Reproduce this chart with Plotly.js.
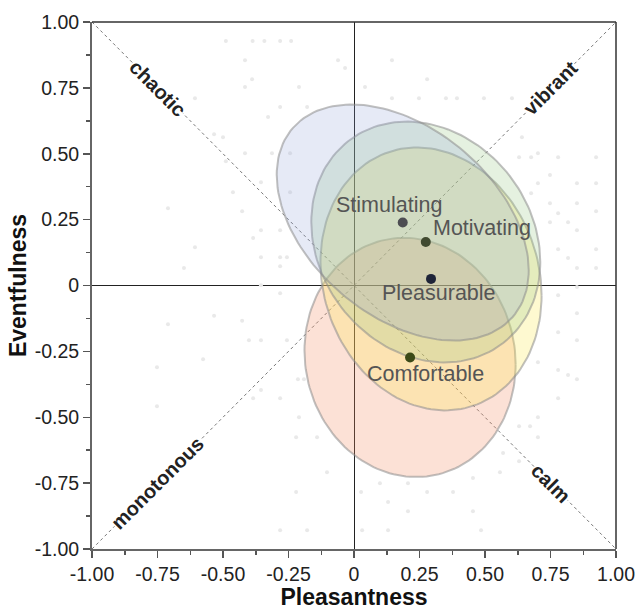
<!DOCTYPE html>
<html>
<head>
<meta charset="utf-8">
<script src="https://cdn.plot.ly/plotly-3.0.1.min.js"></script>
<style>
  html, body { margin: 0; padding: 0; background: #fff; }
  #chart { width: 639px; height: 610px; }
</style>
</head>
<body>
<div id="chart"></div>
<script>
// Perceptual attributes: mean position and spread on the circumplex
const attributes   = ['Stimulating', 'Motivating', 'Pleasurable', 'Comfortable'];
const pleasantness = [0.186, 0.274, 0.294, 0.214];
const eventfulness = [0.239, 0.165, 0.025, -0.273];
const spreadP      = [0.481, 0.437, 0.422, 0.403];
const spreadE      = [0.448, 0.457, 0.499, 0.454];
const correlation  = [-0.405, -0.166, -0.127, -0.058];

// Individual responses (faint background points)
const respP = [
  -0.489, -0.387, -0.342, -0.282, -0.240, -0.416, -0.607, -0.416, -0.389, -0.210,
  -0.179, -0.282, -0.328, -0.534, -0.500, -0.416, -0.313, -0.244, -0.489, -0.462,
  -0.355, -0.244, -0.427, -0.710, -0.607, -0.385, -0.355, -0.282, -0.355, -0.282,
  -0.256, -0.649, -0.282, -0.355, -0.282,
  -0.534, -0.427, -0.710, -0.401, -0.355, -0.256, -0.576, -0.752, -0.214, -0.191,
  -0.355, -0.385, -0.282, -0.752, -0.210, -0.221, -0.141, -0.221, -0.282, -0.179,
  0.851, 0.779, 0.851, 0.702, 0.779, 0.817, 0.851, 0.779, 0.702, 0.630,
  0.672, 0.702, 0.569, 0.630, 0.557, -0.103, 0.454, 0.099, 0.206, 0.279,
  0.378, 0.027, 0.130, 0.206, 0.454, 0.031, 0.130, 0.485,
  -0.061, -0.034, 0.145, 0.279, 0.042, 0.145, 0.248, 0.351, 0.393, 0.496,
  0.603, 0.641, 0.630, 0.676, 0.702, 0.779, 0.924, 0.748, 0.702, 0.851,
  0.924, 0.676, 0.748, 0.851, 0.924, 0.779, 0.748, 0.817, 0.851, 0.779,
  0.817, 0.851, 0.924, 0.924, 0.779, 0.851
];
const respE = [
  0.928, 0.928, 0.928, 0.928, 0.928, 0.855, 0.711, 0.753, 0.783, 0.753,
  0.677, 0.677, 0.639, 0.574, 0.563, 0.502, 0.502, 0.502, 0.472, 0.354,
  0.392, 0.354, 0.282, 0.293, 0.145, 0.180, 0.210, 0.210, 0.107, 0.107,
  0.107, 0.066, 0.073, 0.001, -0.029,
  -0.115, -0.134, -0.147, -0.208, -0.208, -0.208, -0.280, -0.310, -0.356, -0.356,
  -0.397, -0.428, -0.428, -0.458, -0.500, -0.576, -0.576, -0.784, -0.929, -0.929,
  -0.105, -0.177, -0.208, -0.291, -0.321, -0.340, -0.356, -0.428, -0.500, -0.534,
  -0.534, -0.576, -0.636, -0.667, -0.709, -0.709, -0.731, -0.750, -0.750, -0.784,
  -0.784, -0.784, -0.822, -0.857, -0.857, -0.929, -0.929, -0.929,
  0.855, 0.825, 0.855, 0.783, 0.753, 0.711, 0.711, 0.711, 0.711, 0.711,
  0.711, 0.563, 0.487, 0.487, 0.502, 0.487, 0.487, 0.419, 0.388, 0.388,
  0.388, 0.350, 0.312, 0.312, 0.282, 0.274, 0.240, 0.240, 0.210, 0.138,
  0.104, 0.066, 0.138, 0.066, -0.037, -0.006
];

// Axis ticks
const tickVals   = [-1, -0.75, -0.5, -0.25, 0, 0.25, 0.5, 0.75, 1];
const tickLabels = ['-1.00', '-0.75', '-0.50', '-0.25', '0', '0.25', '0.50', '0.75', '1.00'];

// Quadrant descriptors along the diagonals
const diagLabels = ['chaotic', 'vibrant', 'monotonous', 'calm'];
const diagP      = [-0.75, 0.75, -0.75, 0.75];
const diagE      = [0.75, 0.75, -0.75, -0.75];

const fillColors = ['rgba(140,160,215,0.22)', 'rgba(150,200,130,0.25)',
                    'rgba(250,232,80,0.27)', 'rgba(245,140,95,0.26)'];
const dotColors  = ['#4d4d52', '#414a30', '#1e2438', '#3b4a18'];
const labelShift = [[-14, 18], [56, 14], [8, -14], [15, -17]];
const diagAngles = [45, -45, -45, 45];
// Comfortable is drawn first so the others layer over it
const drawOrder  = [3, 2, 1, 0];

const FONT = '"Liberation Sans", Arial, Helvetica, sans-serif';

// Confidence ellipse outline from mean, spreads and correlation
function ellipse(i) {
  const xs = [], ys = [];
  const r = correlation[i], s = Math.sqrt(1 - r * r);
  for (let k = 0; k <= 160; k++) {
    const t = 2 * Math.PI * k / 160;
    xs.push(pleasantness[i] + spreadP[i] * Math.cos(t));
    ys.push(eventfulness[i] + spreadE[i] * (r * Math.cos(t) + s * Math.sin(t)));
  }
  return { xs, ys };
}

const traces = [];

traces.push({
  type: 'scatter', mode: 'markers', x: respP, y: respE,
  marker: { size: 4, color: '#e9e9e9' },
  hoverinfo: 'skip', showlegend: false
});

drawOrder.forEach(i => {
  const e = ellipse(i);
  traces.push({
    type: 'scatter', mode: 'lines', x: e.xs, y: e.ys, name: attributes[i],
    fill: 'toself', fillcolor: fillColors[i],
    line: { color: 'rgba(140,140,140,0.55)', width: 2 },
    hoverinfo: 'skip', showlegend: false
  });
});

traces.push({
  type: 'scatter', mode: 'markers', x: pleasantness, y: eventfulness,
  text: attributes, hoverinfo: 'text',
  marker: { size: 10, color: dotColors },
  showlegend: false
});

const annotations = [];
attributes.forEach((name, i) => {
  annotations.push({
    x: pleasantness[i], y: eventfulness[i], xref: 'x', yref: 'y',
    text: name, showarrow: false,
    xshift: labelShift[i][0], yshift: labelShift[i][1],
    font: { family: FONT, size: 21.5, color: '#555' }
  });
});
diagLabels.forEach((lab, i) => {
  annotations.push({
    x: diagP[i], y: diagE[i], xref: 'x', yref: 'y',
    text: '<b>' + lab + '</b>', showarrow: false,
    textangle: diagAngles[i], bgcolor: '#fff', borderpad: 0,
    font: { family: FONT, size: 20, color: '#222' }
  });
});

const shapes = [
  { type: 'line', xref: 'x', yref: 'y', x0: -1, y0: 1, x1: 1, y1: -1,
    line: { color: '#555', width: 0.8, dash: 'dot' }, layer: 'below' },
  { type: 'line', xref: 'x', yref: 'y', x0: -1, y0: -1, x1: 1, y1: 1,
    line: { color: '#555', width: 0.8, dash: 'dot' }, layer: 'below' },
  { type: 'line', xref: 'paper', yref: 'paper', x0: 0, y0: 1, x1: 1, y1: 1,
    line: { color: '#333', width: 1.5 } },
  { type: 'line', xref: 'paper', yref: 'paper', x0: 1, y0: 0, x1: 1, y1: 1,
    line: { color: '#333', width: 1.5 } }
];

const axisCommon = {
  range: [-1, 1], autorange: false, fixedrange: true,
  showgrid: false,
  zeroline: true, zerolinecolor: '#222', zerolinewidth: 1,
  showline: true, linecolor: '#666', linewidth: 2,
  ticks: 'outside', ticklen: 7, tickwidth: 1.5, tickcolor: '#555',
  tickmode: 'array', tickvals: tickVals, ticktext: tickLabels,
  tickfont: { family: FONT, size: 19.5, color: '#222' },
  minor: { tickmode: 'linear', tick0: -1, dtick: 0.125, ticks: 'outside',
           ticklen: 4, tickwidth: 1.5, tickcolor: '#555', showgrid: false }
};

const layout = {
  width: 639, height: 610,
  margin: { l: 92, r: 23, t: 22, b: 61 },
  paper_bgcolor: '#fff', plot_bgcolor: '#fff',
  font: { family: FONT },
  xaxis: Object.assign({}, axisCommon, {
    title: { text: '<b>Pleasantness</b>', standoff: 7,
             font: { family: FONT, size: 23, color: '#111' } }
  }),
  yaxis: Object.assign({}, axisCommon, {
    title: { text: '<b>Eventfulness</b>', standoff: 2,
             font: { family: FONT, size: 23, color: '#111' } }
  }),
  shapes: shapes,
  annotations: annotations,
  showlegend: false
};

Plotly.newPlot('chart', traces, layout, { displayModeBar: false, staticPlot: true });
</script>
</body>
</html>
